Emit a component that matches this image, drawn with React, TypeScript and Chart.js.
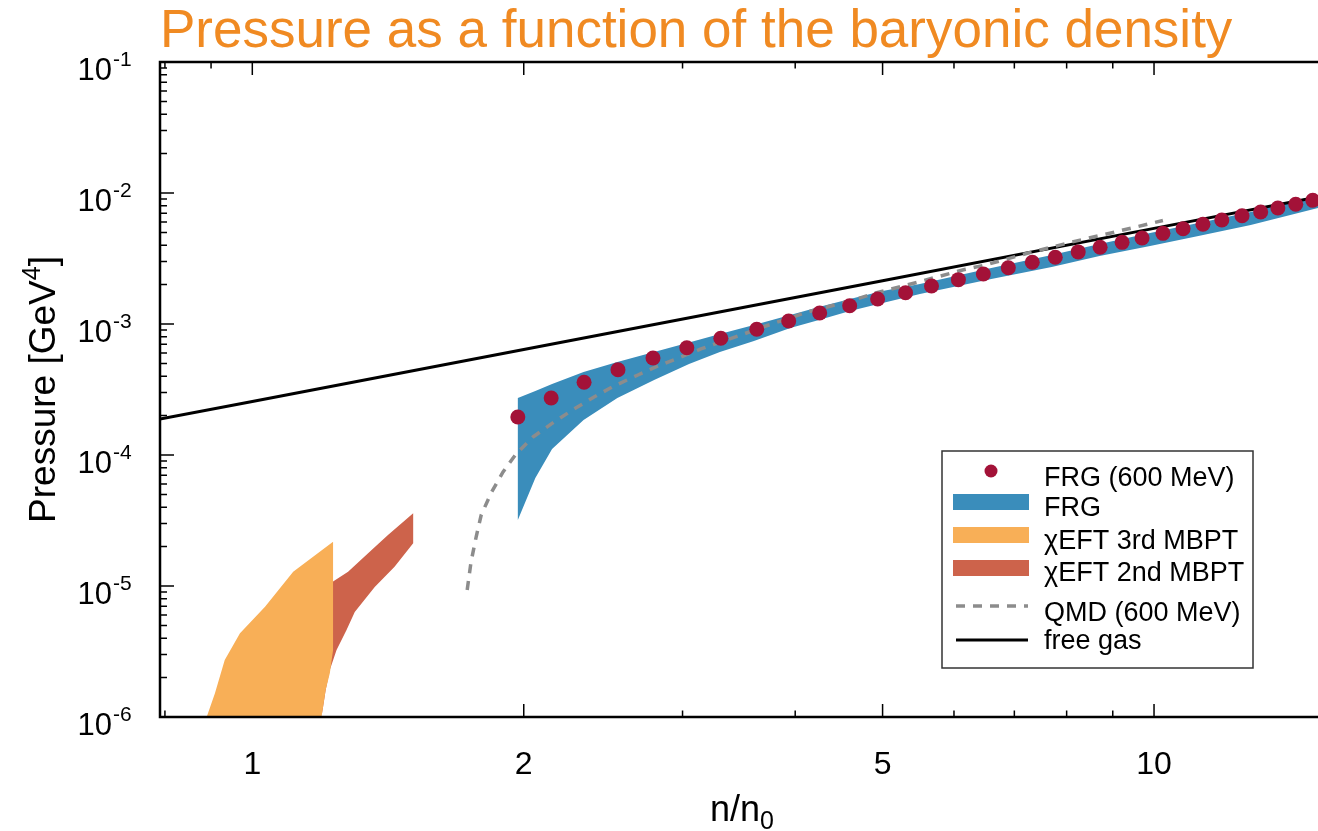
import React, { useEffect, useRef } from 'react';
import { Chart, registerables } from 'chart.js';

Chart.register(...registerables);

const FONT = '"Liberation Sans", Arial, Helvetica, sans-serif';

// ---------- axes ----------
const xMin = 0.79;
const xMax = 15.2;
const yMin = 1e-6;
const yMax = 1e-1;
const xTickLabels = [1, 2, 5, 10];
const xMinorTicks = [0.8, 0.9, 3, 4, 6, 7, 8, 9];
const yDecades = [1e-6, 1e-5, 1e-4, 1e-3, 1e-2, 1e-1];
const yDecadeExponents = ['-6', '-5', '-4', '-3', '-2', '-1'];

// ---------- FRG (600 MeV) points ----------
const frgDotsX = [1.97, 2.145, 2.333, 2.544, 2.782, 3.033, 3.308, 3.626, 3.934, 4.258, 4.597, 4.937, 5.302, 5.665, 6.068, 6.467,
  6.893, 7.328, 7.771, 8.24, 8.714, 9.217, 9.699, 10.23, 10.77, 11.33, 11.89, 12.52, 13.13, 13.72, 14.36, 15.0];
const frgDotsY = [1.95e-4, 2.72e-4, 3.59e-4, 4.48e-4, 5.50e-4, 6.59e-4, 7.78e-4, 9.12e-4, 1.054e-3, 1.213e-3, 1.379e-3, 1.552e-3,
  1.734e-3, 1.95e-3, 2.18e-3, 2.41e-3, 2.69e-3, 2.96e-3, 3.23e-3, 3.55e-3, 3.85e-3, 4.20e-3, 4.53e-3, 4.92e-3, 5.34e-3, 5.77e-3,
  6.22e-3, 6.71e-3, 7.16e-3, 7.68e-3, 8.20e-3, 8.79e-3];

// ---------- FRG band ----------
const frgBandX = [1.97, 2.06, 2.15, 2.33, 2.54, 2.79, 3.05, 3.3, 3.6, 3.95, 4.25, 4.6, 5.0, 5.5, 6.6, 7.7, 8.7, 9.9, 11.2, 12.8, 15.2];
const frgBandUpper = [2.72e-4, 3.08e-4, 3.48e-4, 4.30e-4, 5.13e-4, 6.11e-4, 7.22e-4, 8.39e-4, 9.83e-4, 1.172e-3, 1.348e-3, 1.551e-3,
  1.786e-3, 2.02e-3, 2.676e-3, 3.363e-3, 4.08e-3, 4.95e-3, 5.90e-3, 7.16e-3, 9.65e-3];
const frgBandLower = [3.19e-5, 6.67e-5, 1.111e-4, 1.85e-4, 2.723e-4, 3.74e-4, 4.95e-4, 6.11e-4, 7.42e-4, 9.32e-4, 1.073e-3, 1.257e-3,
  1.446e-3, 1.694e-3, 2.205e-3, 2.723e-3, 3.30e-3, 3.94e-3, 4.69e-3, 5.70e-3, 7.68e-3];

// ---------- chiEFT 3rd MBPT band ----------
const eft3UpperX = [0.89, 0.909, 0.932, 0.969, 1.033, 1.11, 1.229];
const eft3UpperY = [1e-6, 1.517e-6, 2.72e-6, 4.35e-6, 6.95e-6, 1.285e-5, 2.18e-5];
const eft3LowerX = [1.193, 1.198, 1.206, 1.219, 1.229];
const eft3LowerY = [1e-6, 1.19e-6, 1.61e-6, 2.17e-6, 3.25e-6];

// ---------- chiEFT 2nd MBPT band ----------
const eft2LowerX = [1.193, 1.198, 1.206, 1.219, 1.24, 1.272, 1.299, 1.367, 1.438, 1.508];
const eft2LowerY = [1e-6, 1.19e-6, 1.61e-6, 2.29e-6, 3.25e-6, 4.61e-6, 6.33e-6, 9.82e-6, 1.40e-5, 2.12e-5];
const eft2UpperX = [1.193, 1.229, 1.277, 1.344, 1.414, 1.508];
const eft2UpperY = [8e-6, 1.08e-5, 1.285e-5, 1.78e-5, 2.45e-5, 3.59e-5];

// ---------- QMD (600 MeV) ----------
const qmdX = [1.731, 1.748, 1.771, 1.794, 1.84, 1.897, 1.961, 2.048, 2.161, 2.274, 2.393, 2.518, 2.677, 2.818, 2.988, 3.144,
  3.508, 3.71, 4.13, 4.643, 4.911, 5.481, 6.132, 6.5, 7.253, 8.114, 9.054, 10.23];
const qmdY = [9.32e-6, 1.524e-5, 2.366e-5, 3.48e-5, 5.13e-5, 7.42e-5, 1.018e-4, 1.373e-4, 1.786e-4, 2.245e-4, 2.77e-4, 3.36e-4,
  4.08e-4, 4.78e-4, 5.60e-4, 6.45e-4, 8.39e-4, 9.65e-4, 1.235e-3, 1.524e-3, 1.725e-3, 2.093e-3, 2.584e-3, 2.82e-3, 3.48e-3,
  4.23e-3, 5.04e-3, 6.17e-3];

// ---------- free gas ----------
const freeGasX = [0.79, 1, 2, 5, 10, 15.2];
const freeGasY = [1.88e-4, 2.56e-4, 6.38e-4, 2.14e-3, 5.37e-3, 9.32e-3];

// ---------- legend ----------
const legendLabels = ['FRG (600 MeV)', 'FRG', 'χEFT 3rd MBPT', 'χEFT 2nd MBPT', 'QMD (600 MeV)', 'free gas'];

const COLORS = {
  dots: '#A31238',
  frg: '#3A8DBB',
  eft3: '#F8AF57',
  eft2: '#CD634B',
  qmd: '#8C8C8C',
  free: '#000000',
  title: '#F08A22',
};

const pts = (xs: number[], ys: number[]) => xs.map((x, i) => ({ x, y: ys[i] }));
const polygon = (ax: number[], ay: number[], bx: number[], by: number[]) => [...pts(ax, ay), ...pts(bx, by).reverse()];

const framePlugin = {
  id: 'frame',
  beforeDatasetsDraw(chart: any) {
    const { ctx, chartArea: a, scales } = chart;
    const xs = scales.x;
    const ys = scales.y;
    ctx.save();
    ctx.strokeStyle = '#000';
    ctx.lineWidth = 1.5;
    ctx.beginPath();
    for (let i = 0; i < yDecades.length; i++) {
      const d = yDecades[i];
      const py = ys.getPixelForValue(d);
      ctx.moveTo(a.left, py);
      ctx.lineTo(a.left + 14, py);
      if (i < yDecades.length - 1) {
        for (let m = 2; m <= 9; m++) {
          const pm = ys.getPixelForValue(m * d);
          ctx.moveTo(a.left, pm);
          ctx.lineTo(a.left + 7, pm);
        }
      }
    }
    const drawX = (v: number, len: number) => {
      const px = xs.getPixelForValue(v);
      ctx.moveTo(px, a.bottom);
      ctx.lineTo(px, a.bottom - len);
      ctx.moveTo(px, a.top);
      ctx.lineTo(px, a.top + len);
    };
    xTickLabels.forEach((v) => drawX(v, 13));
    xMinorTicks.forEach((v) => drawX(v, 6.5));
    ctx.stroke();
    ctx.restore();
  },
  afterDatasetsDraw(chart: any) {
    const { ctx, chartArea: a, scales } = chart;
    const ys = scales.y;
    ctx.save();
    ctx.strokeStyle = '#000';
    ctx.lineWidth = 2.5;
    ctx.beginPath();
    ctx.moveTo(a.right + 2, a.top);
    ctx.lineTo(a.left, a.top);
    ctx.lineTo(a.left, a.bottom);
    ctx.lineTo(a.right + 2, a.bottom);
    ctx.stroke();

    // y tick labels 10^n
    ctx.fillStyle = '#000';
    ctx.textBaseline = 'alphabetic';
    for (let i = 0; i < yDecades.length; i++) {
      const py = ys.getPixelForValue(yDecades[i]);
      ctx.font = `31px ${FONT}`;
      ctx.textAlign = 'right';
      ctx.fillText('10', a.left - 48, py + 18);
      ctx.font = `21px ${FONT}`;
      ctx.textAlign = 'left';
      ctx.fillText(yDecadeExponents[i], a.left - 47, py + 3.5);
    }

    // y axis title
    ctx.save();
    ctx.translate(55, (a.top + a.bottom) / 2);
    ctx.rotate(-Math.PI / 2);
    ctx.textAlign = 'left';
    ctx.font = `37px ${FONT}`;
    const t1 = 'Pressure [GeV';
    const w1 = ctx.measureText(t1).width;
    const w3 = ctx.measureText(']').width;
    ctx.font = `25px ${FONT}`;
    const w2 = ctx.measureText('4').width;
    const x0 = -(w1 + w2 + w3) / 2;
    ctx.font = `37px ${FONT}`;
    ctx.fillText(t1, x0, 0);
    ctx.font = `25px ${FONT}`;
    ctx.fillText('4', x0 + w1, -15);
    ctx.font = `37px ${FONT}`;
    ctx.fillText(']', x0 + w1 + w2, 0);
    ctx.restore();

    // x axis title n/n0
    ctx.font = `36px ${FONT}`;
    const n1 = 'n/n';
    const nw = ctx.measureText(n1).width;
    ctx.font = `25px ${FONT}`;
    const zw = ctx.measureText('0').width;
    const cx = (a.left + a.right) / 2 + 3;
    const sx = cx - (nw + zw) / 2;
    ctx.textAlign = 'left';
    ctx.font = `36px ${FONT}`;
    ctx.fillText(n1, sx, 821);
    ctx.font = `25px ${FONT}`;
    ctx.fillText('0', sx + nw, 829);

    // title
    ctx.font = `53px ${FONT}`;
    ctx.fillStyle = COLORS.title;
    ctx.fillText('Pressure as a function of the baryonic density', a.left, 47);

    // legend
    const L = { left: 942, top: 451, right: 1253, bottom: 668 };
    ctx.fillStyle = '#fff';
    ctx.fillRect(L.left, L.top, L.right - L.left, L.bottom - L.top);
    ctx.strokeStyle = '#333';
    ctx.lineWidth = 1.5;
    ctx.strokeRect(L.left, L.top, L.right - L.left, L.bottom - L.top);
    const textX = 1044;
    const baselines = [486, 516, 549, 581, 621, 649];
    ctx.fillStyle = COLORS.dots;
    ctx.beginPath();
    ctx.arc(991, 471, 6.5, 0, Math.PI * 2);
    ctx.fill();
    ctx.fillStyle = COLORS.frg;
    ctx.fillRect(953, 494, 76, 16);
    ctx.fillStyle = COLORS.eft3;
    ctx.fillRect(953, 527, 76, 16);
    ctx.fillStyle = COLORS.eft2;
    ctx.fillRect(953, 560, 76, 16);
    ctx.strokeStyle = COLORS.qmd;
    ctx.lineWidth = 3.5;
    ctx.setLineDash([9, 8]);
    ctx.beginPath();
    ctx.moveTo(956, 606);
    ctx.lineTo(1028, 606);
    ctx.stroke();
    ctx.setLineDash([]);
    ctx.strokeStyle = COLORS.free;
    ctx.lineWidth = 3;
    ctx.beginPath();
    ctx.moveTo(956, 640);
    ctx.lineTo(1028, 640);
    ctx.stroke();
    ctx.fillStyle = '#000';
    ctx.font = `27px ${FONT}`;
    legendLabels.forEach((s, i) => ctx.fillText(s, textX, baselines[i]));
    ctx.restore();
  },
};

export default function App() {
  const ref = useRef<HTMLCanvasElement>(null);
  useEffect(() => {
    document.body.style.margin = '0';
    const bandBase = { type: 'line', pointRadius: 0, borderWidth: 1, borderColor: 'rgba(0,0,0,0)', fill: 'shape' };
    const chart = new Chart(ref.current as HTMLCanvasElement, {
      type: 'line',
      data: {
        datasets: [
          {
            label: legendLabels[0],
            data: pts(frgDotsX, frgDotsY),
            showLine: false,
            pointRadius: 7.5,
            pointHoverRadius: 7.5,
            pointBackgroundColor: COLORS.dots,
            pointBorderWidth: 0,
            pointBorderColor: COLORS.dots,
            order: 0,
          },
          {
            ...bandBase,
            label: legendLabels[1],
            data: polygon(frgBandX, frgBandUpper, frgBandX, frgBandLower),
            backgroundColor: COLORS.frg,
            order: 4,
          },
          {
            ...bandBase,
            label: legendLabels[2],
            data: polygon(eft3UpperX, eft3UpperY, eft3LowerX, eft3LowerY),
            backgroundColor: COLORS.eft3,
            order: 5,
          },
          {
            ...bandBase,
            label: legendLabels[3],
            data: polygon(eft2LowerX, eft2LowerY, eft2UpperX, eft2UpperY),
            backgroundColor: COLORS.eft2,
            order: 6,
          },
          {
            label: legendLabels[4],
            data: pts(qmdX, qmdY),
            borderColor: COLORS.qmd,
            borderWidth: 3.5,
            borderDash: [9, 8],
            pointRadius: 0,
            fill: false,
            order: 1,
          },
          {
            label: legendLabels[5],
            data: pts(freeGasX, freeGasY),
            borderColor: COLORS.free,
            borderWidth: 3,
            pointRadius: 0,
            fill: false,
            order: 2,
          },
        ] as any,
      },
      options: {
        animation: false,
        responsive: false,
        devicePixelRatio: 1,
        layout: { autoPadding: false, padding: { top: 62, left: 0, right: 0, bottom: 0 } },
        scales: {
          x: {
            type: 'logarithmic',
            min: xMin,
            max: xMax,
            afterFit: (s: any) => { s.height = 114; },
            afterBuildTicks: (s: any) => { s.ticks = xTickLabels.map((v) => ({ value: v })); },
            ticks: {
              autoSkip: false,
              maxRotation: 0,
              padding: 21,
              color: '#000',
              font: { family: FONT, size: 32 },
              callback: (v: any) => String(v),
            },
            grid: { display: false },
            border: { display: false },
          },
          y: {
            type: 'logarithmic',
            min: yMin,
            max: yMax,
            afterFit: (s: any) => { s.width = 160; },
            ticks: { display: false },
            grid: { display: false },
            border: { display: false },
          },
        },
        plugins: {
          legend: { display: false },
          tooltip: { enabled: false },
          title: { display: false },
        },
      } as any,
      plugins: [framePlugin as any],
    });
    return () => chart.destroy();
  }, []);
  return (
    <div style={{ width: 1318, height: 831 }}>
      <canvas ref={ref} width={1318} height={831} style={{ display: 'block' }} />
    </div>
  );
}
